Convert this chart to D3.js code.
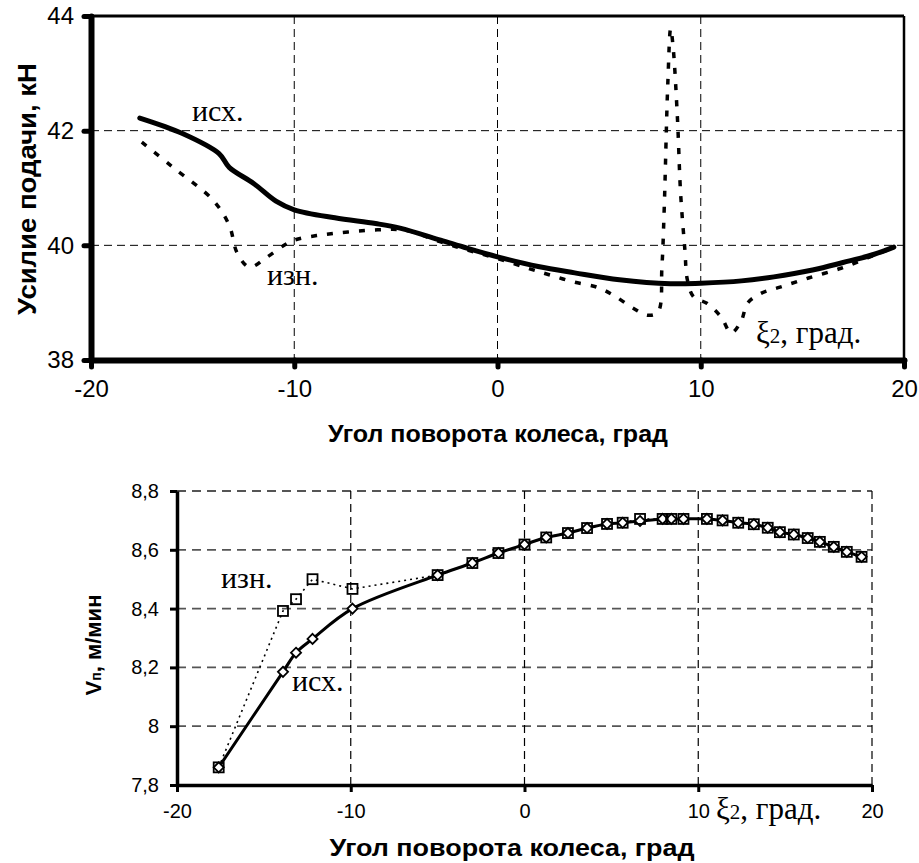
<!DOCTYPE html>
<html>
<head>
<meta charset="utf-8">
<script src="https://cdn.jsdelivr.net/npm/d3@7"></script>
<style>
  body { margin: 0; background: #fff; }
  svg { display: block; }
</style>
</head>
<body>
<div id="chart"></div>
<script>
// --- top chart: feed force vs wheel angle
var topIshX = [-17.6, -15.5, -13.7, -13.2, -12.0, -10.9, -10.0, -8.0, -6.0, -4.8, -2.8, -1.5, 0.0, 2.0, 3.8, 6.0, 8.5, 10.0, 12.0, 13.6, 15.5, 17.0, 18.5, 19.5];
var topIshY = [42.22, 41.95, 41.6, 41.36, 41.08, 40.77, 40.62, 40.48, 40.38, 40.3, 40.09, 39.95, 39.8, 39.63, 39.52, 39.4, 39.33, 39.34, 39.38, 39.45, 39.57, 39.7, 39.84, 39.97];

var topIznX = [-17.5, -16.0, -14.0, -13.2, -12.8, -12.2, -11.4, -10.5, -10.0, -8.9, -5.9, -4.5, -2.8, -1.5, 0.0, 1.5, 2.6, 3.75, 4.9, 5.7, 6.7, 7.4, 7.9, 8.09, 8.2, 8.38, 8.52, 8.64, 8.85, 9.01, 9.22, 9.34, 9.65, 10.3, 11.0, 11.5, 12.0, 12.3, 12.95, 13.9, 15.3, 16.9, 18.2, 19.4];
var topIznY = [41.8, 41.37, 40.79, 40.35, 39.86, 39.62, 39.78, 40.0, 40.09, 40.17, 40.27, 40.26, 40.06, 39.92, 39.77, 39.6, 39.48, 39.36, 39.27, 39.13, 38.9, 38.78, 38.84, 39.63, 40.61, 42.83, 43.78, 43.46, 42.24, 40.9, 39.92, 39.4, 39.1, 38.99, 38.75, 38.47, 38.69, 38.99, 39.16, 39.27, 39.43, 39.6, 39.78, 39.95];

var topXTicks = [-20, -10, 0, 10, 20];
var topYTicks = [38, 40, 42, 44];

// --- bottom chart: feed speed vs wheel angle
var botX = [-17.6, -13.9, -13.15, -12.2, -9.9, -5.0, -3.0, -1.5, 0.0, 1.25, 2.5, 3.6, 4.75, 5.65, 6.65, 7.95, 8.45, 9.15, 10.5, 11.4, 12.3, 13.2, 14.0, 14.7, 15.5, 16.3, 17.0, 17.8, 18.55, 19.4];
var botIshY = [7.86, 8.185, 8.25, 8.297, 8.40, 8.514, 8.555, 8.589, 8.618, 8.642, 8.657, 8.674, 8.688, 8.692, 8.698, 8.705, 8.705, 8.705, 8.705, 8.70, 8.692, 8.687, 8.675, 8.66, 8.652, 8.64, 8.627, 8.61, 8.593, 8.576];
var botIznY = [7.86, 8.392, 8.432, 8.50, 8.467, 8.514, 8.555, 8.589, 8.618, 8.642, 8.657, 8.674, 8.688, 8.692, 8.705, 8.705, 8.705, 8.705, 8.705, 8.70, 8.692, 8.687, 8.675, 8.66, 8.652, 8.64, 8.627, 8.61, 8.593, 8.576];

var botXTicks = [-20, -10, 0, 10, 20];
var botYTicks = [7.8, 8.0, 8.2, 8.4, 8.6, 8.8];

var W = 919, H = 863;
var svg = d3.select("#chart").append("svg")
    .attr("width", W)
    .attr("height", H);

var sans = "'Liberation Sans', Arial, sans-serif";
var serif = "'Liberation Serif', 'Times New Roman', serif";

function zip(xs, ys) {
    return xs.map(function(d, i) { return [d, ys[i]]; });
}
// plain hyphen minus, comma decimals, like the original
function fmt(d) {
    return String(+d.toFixed(1)).replace(".", ",");
}

// ================= TOP =================
var x1 = d3.scaleLinear().domain([-20, 20]).range([91, 904]);
var y1 = d3.scaleLinear().domain([38, 44]).range([360, 16]);

var g1 = svg.append("g");

// grid
g1.selectAll(".hgrid").data([40, 42]).enter().append("line")
    .attr("x1", x1(-20)).attr("x2", x1(20))
    .attr("y1", function(d) { return y1(d); })
    .attr("y2", function(d) { return y1(d); })
    .style("stroke", "#000").style("stroke-width", 1).style("stroke-dasharray", "8,5");
g1.selectAll(".vgrid").data([-10, 0, 10]).enter().append("line")
    .attr("x1", function(d) { return x1(d); })
    .attr("x2", function(d) { return x1(d); })
    .attr("y1", y1(44)).attr("y2", y1(38))
    .style("stroke", "#000").style("stroke-width", 1).style("stroke-dasharray", "8,5");

// frame top / right
g1.append("line").attr("x1", x1(-20)).attr("x2", x1(20)).attr("y1", y1(44)).attr("y2", y1(44))
    .style("stroke", "#000").style("stroke-width", 3);
g1.append("line").attr("x1", x1(20)).attr("x2", x1(20)).attr("y1", y1(44)).attr("y2", y1(38))
    .style("stroke", "#000").style("stroke-width", 2.5);

// lines
var line1 = d3.line()
    .x(function(d) { return x1(d[0]); })
    .y(function(d) { return y1(d[1]); })
    .curve(d3.curveCatmullRom);

g1.append("path").datum(zip(topIznX, topIznY))
    .attr("d", line1)
    .style("fill", "none").style("stroke", "#000").style("stroke-width", 3.5)
    .style("stroke-dasharray", "6,10");

g1.append("path").datum(zip(topIshX, topIshY))
    .attr("d", line1)
    .style("fill", "none").style("stroke", "#000").style("stroke-width", 5)
    .style("stroke-linecap", "round");

// axes
var ax1 = g1.append("g").attr("transform", "translate(0," + y1(38) + ")")
    .call(d3.axisBottom(x1).tickValues(topXTicks).tickFormat(fmt).tickSize(7).tickSizeOuter(0).tickPadding(13));
var ay1 = g1.append("g").attr("transform", "translate(" + x1(-20) + ",0)")
    .call(d3.axisLeft(y1).tickValues(topYTicks).tickFormat(fmt).tickSize(7).tickSizeOuter(0).tickPadding(10));
[ax1, ay1].forEach(function(a) {
    a.select(".domain").style("stroke", "#000").style("stroke-width", 6).style("stroke-linecap", "round");
    a.selectAll(".tick line").style("stroke", "#000").style("stroke-width", 5).style("stroke-linecap", "round");
    a.selectAll(".tick text").style("font-family", sans).style("font-size", "24px").style("fill", "#000");
});

// titles
g1.append("text")
    .attr("transform", "translate(36,189) rotate(-90)")
    .attr("text-anchor", "middle")
    .attr("textLength", 252).attr("lengthAdjust", "spacingAndGlyphs")
    .style("font-family", sans).style("font-weight", "bold").style("font-size", "25px")
    .text("Усилие подачи, кН");
g1.append("text")
    .attr("x", 498).attr("y", 442)
    .attr("text-anchor", "middle")
    .attr("textLength", 340).attr("lengthAdjust", "spacingAndGlyphs")
    .style("font-family", sans).style("font-weight", "bold").style("font-size", "23px")
    .text("Угол поворота колеса, град");

g1.append("text").attr("x", 192).attr("y", 121)
    .style("font-family", serif).style("font-size", "30px").text("исх.");
g1.append("text").attr("x", 267).attr("y", 285)
    .style("font-family", serif).style("font-size", "30px").text("изн.");
var xi1 = g1.append("text").attr("x", 756).attr("y", 343)
    .style("font-family", serif).style("font-size", "31px");
xi1.append("tspan").text("ξ");
xi1.append("tspan").style("font-size", "21px").text("2");
xi1.append("tspan").text(", град.");

// ================= BOTTOM =================
var x2 = d3.scaleLinear().domain([-20, 20]).range([177, 872]);
var y2 = d3.scaleLinear().domain([7.8, 8.8]).range([785, 491]);

var g2 = svg.append("g");

g2.selectAll(".hgrid").data(botYTicks.slice(1)).enter().append("line")
    .attr("x1", x2(-20)).attr("x2", x2(20))
    .attr("y1", function(d) { return y2(d); })
    .attr("y2", function(d) { return y2(d); })
    .style("stroke", "#555").style("stroke-width", 1.8).style("stroke-dasharray", "9,6");
g2.selectAll(".vgrid").data([-10, 0, 10, 20]).enter().append("line")
    .attr("x1", function(d) { return x2(d); })
    .attr("x2", function(d) { return x2(d); })
    .attr("y1", y2(8.8)).attr("y2", y2(7.8))
    .style("stroke", "#000").style("stroke-width", 1.2).style("stroke-dasharray", "8,5");

var line2 = d3.line()
    .x(function(d) { return x2(d[0]); })
    .y(function(d) { return y2(d[1]); });

g2.append("path").datum(zip(botX, botIznY))
    .attr("d", line2)
    .style("fill", "none").style("stroke", "#000").style("stroke-width", 1.6)
    .style("stroke-dasharray", "2,4");

g2.append("path").datum(zip(botX, botIshY))
    .attr("d", line2.curve(d3.curveCatmullRom))
    .style("fill", "none").style("stroke", "#000").style("stroke-width", 3);

// markers
g2.selectAll(".dia").data(zip(botX, botIshY)).enter().append("path")
    .attr("d", d3.symbol().type(d3.symbolDiamond2).size(65))
    .attr("transform", function(d) { return "translate(" + x2(d[0]) + "," + y2(d[1]) + ")"; })
    .style("fill", "#fff").style("stroke", "#000").style("stroke-width", 1.8);
g2.selectAll(".sq").data(zip(botX, botIznY)).enter().append("rect")
    .attr("x", function(d) { return x2(d[0]) - 5; })
    .attr("y", function(d) { return y2(d[1]) - 5; })
    .attr("width", 10).attr("height", 10)
    .style("fill", "none").style("stroke", "#000").style("stroke-width", 1.8);

var ax2 = g2.append("g").attr("transform", "translate(0," + y2(7.8) + ")")
    .call(d3.axisBottom(x2).tickValues(botXTicks).tickFormat(fmt).tickSize(7).tickSizeOuter(0).tickPadding(12));
var ay2 = g2.append("g").attr("transform", "translate(" + x2(-20) + ",0)")
    .call(d3.axisLeft(y2).tickValues(botYTicks).tickFormat(fmt).tickSize(7).tickSizeOuter(0).tickPadding(11));
[ax2, ay2].forEach(function(a) {
    a.select(".domain").style("stroke", "#000").style("stroke-width", 3.5);
    a.selectAll(".tick line").style("stroke", "#000").style("stroke-width", 3);
    a.selectAll(".tick text").style("font-family", sans).style("font-size", "20px").style("fill", "#000");
});

var vt = g2.append("text")
    .attr("transform", "translate(101,645) rotate(-90)")
    .attr("text-anchor", "middle")
    .style("font-family", sans).style("font-weight", "bold").style("font-size", "22px");
vt.append("tspan").text("V");
vt.append("tspan").style("font-size", "14px").text("п");
vt.append("tspan").text(", м/мин");

g2.append("text")
    .attr("x", 512).attr("y", 856)
    .attr("text-anchor", "middle")
    .attr("textLength", 365).attr("lengthAdjust", "spacingAndGlyphs")
    .style("font-family", sans).style("font-weight", "bold").style("font-size", "23px")
    .text("Угол поворота колеса, град");

g2.append("text").attr("x", 221).attr("y", 588)
    .style("font-family", serif).style("font-size", "30px").text("изн.");
g2.append("text").attr("x", 292).attr("y", 691)
    .style("font-family", serif).style("font-size", "30px").text("исх.");
var xi2 = g2.append("text").attr("x", 716).attr("y", 819)
    .style("font-family", serif).style("font-size", "31px");
xi2.append("tspan").text("ξ");
xi2.append("tspan").style("font-size", "21px").text("2");
xi2.append("tspan").text(", град.");
</script>
</body>
</html>
